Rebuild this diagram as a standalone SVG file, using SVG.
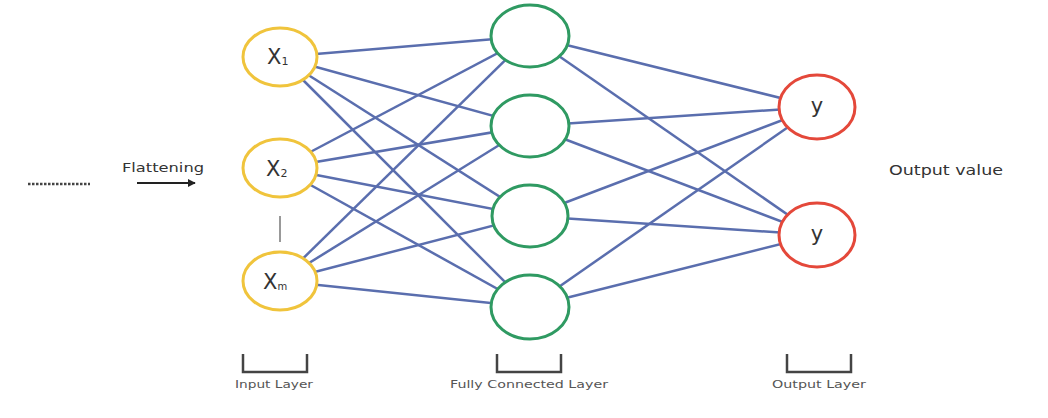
<svg xmlns="http://www.w3.org/2000/svg" width="1048" height="418" viewBox="0 0 1048 418">
<defs>
<style>
.in{fill:#fff;stroke:#f0c43c;stroke-width:3}
.hid{fill:#fff;stroke:#2f9a62;stroke-width:3}
.out{fill:#fff;stroke:#e4483a;stroke-width:3}
.c line{stroke:#5a6eae;stroke-width:2.5}
.lbl{font-family:"DejaVu Sans","Liberation Sans",sans-serif;fill:#333}
.small{font-family:"DejaVu Sans","Liberation Sans",sans-serif;font-size:11px;fill:#555}
.br{fill:none;stroke:#444;stroke-width:2.5}
</style>
<marker id="ah" viewBox="0 0 10 10" refX="9" refY="5" markerWidth="4" markerHeight="4" orient="auto"><path d="M0,0 L10,5 L0,10 z" fill="#222"/></marker>
</defs>
<rect width="1048" height="418" fill="#fff"/>
<g class="c" id="connectors">
<line x1="280" y1="57" x2="530" y2="36"/><line x1="280" y1="57" x2="530" y2="126"/><line x1="280" y1="57" x2="530" y2="216"/><line x1="280" y1="57" x2="530" y2="307"/>
<line x1="280" y1="168" x2="530" y2="36"/><line x1="280" y1="168" x2="530" y2="126"/><line x1="280" y1="168" x2="530" y2="216"/><line x1="280" y1="168" x2="530" y2="307"/>
<line x1="280" y1="281" x2="530" y2="36"/><line x1="280" y1="281" x2="530" y2="126"/><line x1="280" y1="281" x2="530" y2="216"/><line x1="280" y1="281" x2="530" y2="307"/>
<line x1="530" y1="36" x2="817" y2="107"/><line x1="530" y1="36" x2="817" y2="235"/>
<line x1="530" y1="126" x2="817" y2="107"/><line x1="530" y1="126" x2="817" y2="235"/>
<line x1="530" y1="216" x2="817" y2="107"/><line x1="530" y1="216" x2="817" y2="235"/>
<line x1="530" y1="307" x2="817" y2="107"/><line x1="530" y1="307" x2="817" y2="235"/>
</g>
<g id="x1"><ellipse class="in" cx="280" cy="57" rx="37" ry="29"/><text class="lbl" x="267" y="64" font-size="21">X<tspan font-size="11" dy="1">1</tspan></text></g>
<g id="x2"><ellipse class="in" cx="280" cy="168" rx="37" ry="29"/><text class="lbl" x="266" y="176" font-size="21">X<tspan font-size="11" dy="1">2</tspan></text></g>
<g id="xm"><ellipse class="in" cx="280" cy="281" rx="37" ry="29"/><text class="lbl" x="263" y="289" font-size="21">X<tspan font-size="10" dy="1">m</tspan></text></g>
<line x1="280" y1="216" x2="280" y2="242" stroke="#999" stroke-width="2"/>
<g id="h1"><ellipse class="hid" cx="530" cy="36" rx="39" ry="31"/></g>
<g id="h2"><ellipse class="hid" cx="530" cy="126" rx="39" ry="31"/></g>
<g id="h3"><ellipse class="hid" cx="530" cy="216" rx="38" ry="31"/></g>
<g id="h4"><ellipse class="hid" cx="530" cy="307" rx="39" ry="32"/></g>
<g id="y1"><ellipse class="out" cx="817" cy="107" rx="38" ry="32"/><text class="lbl" x="817" y="113" font-size="21" text-anchor="middle">y</text></g>
<g id="y2"><ellipse class="out" cx="817" cy="235" rx="38" ry="32"/><text class="lbl" x="817" y="241" font-size="21" text-anchor="middle">y</text></g>
<text class="lbl" x="889" y="175" font-size="14" fill="#444" textLength="114" lengthAdjust="spacingAndGlyphs">Output value</text>
<g id="flatten">
<line x1="28" y1="184" x2="90" y2="184" stroke="#444" stroke-width="2.5" stroke-dasharray="2.5,1.5"/>
<text class="lbl" x="122" y="172" font-size="13" fill="#444" textLength="82" lengthAdjust="spacingAndGlyphs">Flattening</text>
<line x1="137" y1="183" x2="195" y2="183" stroke="#222" stroke-width="2" marker-end="url(#ah)"/>
</g>
<g id="labels">
<path class="br" d="M243,354 V372 H307 V354"/>
<text class="small" x="235" y="388" textLength="78" lengthAdjust="spacingAndGlyphs">Input Layer</text>
<path class="br" d="M497,354 V372 H561 V354"/>
<text class="small" x="450" y="388" textLength="158" lengthAdjust="spacingAndGlyphs">Fully Connected Layer</text>
<path class="br" d="M787,354 V372 H851 V354"/>
<text class="small" x="772" y="388" textLength="94" lengthAdjust="spacingAndGlyphs">Output Layer</text>
</g>
</svg>
